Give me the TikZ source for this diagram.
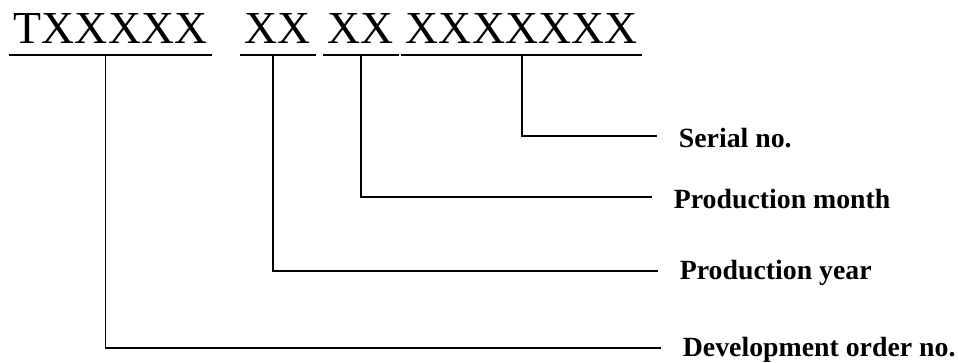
\documentclass[tikz,border=0pt]{standalone}
\usepackage{fontspec}
\setmainfont{Liberation Serif}

\begin{document}
\begin{tikzpicture}[x=0.5pt,y=-0.5pt,line width=0.9pt,
    codepart/.style={anchor=base west,inner xsep=2pt,inner ysep=5pt,font=\fontsize{22.9}{26}\selectfont},
    fieldlbl/.style={anchor=west,inner xsep=10.5pt,yshift=-1pt,font=\fontsize{13.9}{16}\selectfont\bfseries}]
    \useasboundingbox (0,0) rectangle (958,363);
    \node[codepart] (order) at (9,44) {TXXXXX};
    \node[codepart] (year) at (240,44) {XX};
    \node[codepart] (month) at (323,44) {XX};
    \node[codepart] (serial) at (401,44) {XXXXXXX};
    \node[fieldlbl] (serialtxt) at (657,136) {Serial no.};
    \node[fieldlbl] (monthtxt) at (652,197) {Production month};
    \node[fieldlbl] (yeartxt) at (658,271) {Production year};
    \node[fieldlbl] (ordertxt) at (661,348) {Development order no.};
    \foreach \n in {order,year,month,serial}
      \draw (\n.south west) -- (\n.south east);
    \draw (serial.south) |- ([yshift=1pt]serialtxt.west);
    \draw (month.south) |- ([yshift=1pt]monthtxt.west);
    \draw ([xshift=-2.5pt]year.south) |- ([yshift=1pt]yeartxt.west);
    \draw ([xshift=-2.5pt]order.south) |- ([yshift=1pt]ordertxt.west);
  \end{tikzpicture}
\end{document}
